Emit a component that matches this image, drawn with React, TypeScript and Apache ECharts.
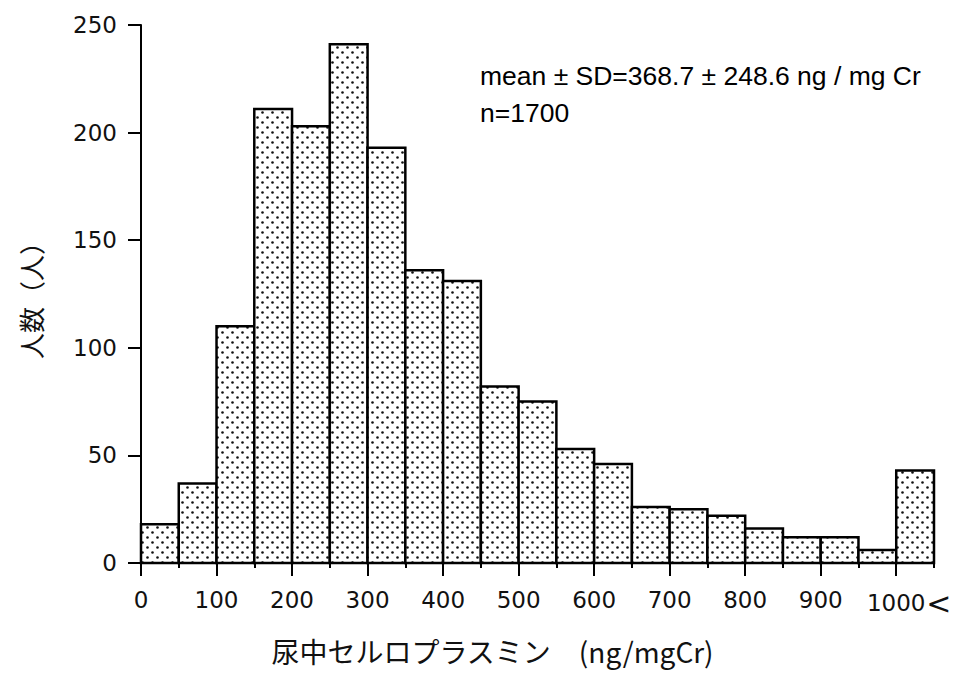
import React, { useEffect, useRef } from "react";
import * as echarts from "echarts";

// Histogram bins (ng/mg Cr), bin width 50; the last bin is "1000<"
const binStarts = [0, 50, 100, 150, 200, 250, 300, 350, 400, 450, 500, 550, 600, 650, 700, 750, 800, 850, 900, 950, 1000];
const binEnds = [50, 100, 150, 200, 250, 300, 350, 400, 450, 500, 550, 600, 650, 700, 750, 800, 850, 900, 950, 1000, 1050];
const counts = [18, 37, 110, 211, 203, 241, 193, 136, 131, 82, 75, 53, 46, 26, 25, 22, 16, 12, 12, 6, 43];

const xMajorTicks = [0, 100, 200, 300, 400, 500, 600, 700, 800, 900, 1000];
const xMinorTicks = [50, 150, 250, 350, 450, 550, 650, 750, 850, 950, 1050];
const yTicks = [0, 50, 100, 150, 200, 250];

const xName = "尿中セルロプラスミン　(ng/mgCr)";
const yName = "人数（人）";
const noteLines = ["mean ± SD=368.7 ± 248.6 ng / mg Cr", "n=1700"];

function makeDotPattern(): HTMLCanvasElement {
  const c = document.createElement("canvas");
  c.width = 10;
  c.height = 10;
  const ctx = c.getContext("2d")!;
  ctx.fillStyle = "#ffffff";
  ctx.fillRect(0, 0, 10, 10);
  ctx.fillStyle = "#111111";
  ctx.beginPath();
  ctx.arc(2.5, 2.5, 1.3, 0, Math.PI * 2);
  ctx.fill();
  ctx.beginPath();
  ctx.arc(7.5, 7.5, 1.3, 0, Math.PI * 2);
  ctx.fill();
  return c;
}

export default function App() {
  const ref = useRef<HTMLDivElement>(null);

  useEffect(() => {
    document.body.style.margin = "0";
    if (!ref.current) return;
    const chart = echarts.init(ref.current, undefined, { renderer: "svg" });
    const pattern = { image: makeDotPattern(), repeat: "repeat" };
    const data = binStarts.map((s, i) => [s, binEnds[i], counts[i]]);
    const numFont = "DejaVu Sans";

    chart.setOption({
      animation: false,
      backgroundColor: "#ffffff",
      grid: { left: 141, right: 22, top: 25, bottom: 112 },
      xAxis: [
        {
          type: "value",
          min: 0,
          max: 1050,
          position: "bottom",
          name: xName,
          nameLocation: "middle",
          nameGap: 74,
          nameTextStyle: {
            fontFamily: "Noto Sans CJK JP",
            fontSize: 28,
            color: "#111",
            padding: [0, 90, 0, 0],
          },
          axisLine: { show: true, lineStyle: { color: "#000", width: 2 } },
          axisTick: {
            show: true,
            customValues: xMajorTicks,
            length: 13,
            lineStyle: { color: "#000", width: 2 },
          },
          axisLabel: {
            customValues: xMajorTicks,
            margin: 25,
            hideOverlap: false,
            fontFamily: numFont,
            fontSize: 23,
            color: "#111",
            formatter: (v: number) => (v === 1000 ? "{p|}1000{l|<}" : String(v)),
            rich: {
              p: { width: 26 },
              l: { width: 26, fontFamily: numFont, fontSize: 30, color: "#111", align: "right" },
            },
          },
          splitLine: { show: false },
        },
        {
          type: "value",
          min: 0,
          max: 1050,
          position: "bottom",
          axisLine: { show: false },
          axisTick: {
            show: true,
            customValues: xMinorTicks,
            length: 5,
            lineStyle: { color: "#000", width: 2 },
          },
          axisLabel: { show: false },
          splitLine: { show: false },
        },
      ],
      yAxis: {
        type: "value",
        min: 0,
        max: 250,
        interval: 50,
        name: yName,
        nameLocation: "middle",
        nameGap: 98,
        nameRotate: 90,
        nameTextStyle: { fontFamily: "Noto Sans CJK JP", fontSize: 26, color: "#111" },
        axisLine: { show: true, lineStyle: { color: "#000", width: 2 } },
        axisTick: { show: true, length: 13, lineStyle: { color: "#000", width: 2 } },
        axisLabel: {
          margin: 24,
          fontFamily: numFont,
          fontSize: 23,
          color: "#111",
          customValues: yTicks,
        },
        splitLine: { show: false },
      },
      graphic: [
        {
          type: "text",
          left: 480,
          top: 57,
          style: {
            text: noteLines.join("\n"),
            font: "26.5px 'Liberation Sans'",
            fill: "#000",
            lineHeight: 37,
          },
        },
      ],
      series: [
        {
          type: "custom",
          xAxisIndex: 0,
          yAxisIndex: 0,
          encode: { x: [0, 1], y: 2 },
          data,
          renderItem: (params: any, api: any) => {
            const x0 = api.value(0);
            const x1 = api.value(1);
            const v = api.value(2);
            const pTop = api.coord([x0, v]);
            const pBot = api.coord([x1, 0]);
            return {
              type: "rect",
              shape: {
                x: pTop[0],
                y: pTop[1],
                width: pBot[0] - pTop[0],
                height: pBot[1] - pTop[1],
              },
              style: { fill: pattern, stroke: "#000", lineWidth: 2.5 },
            };
          },
        },
      ],
    });
    return () => chart.dispose();
  }, []);

  return <div ref={ref} style={{ width: 956, height: 675 }} />;
}
